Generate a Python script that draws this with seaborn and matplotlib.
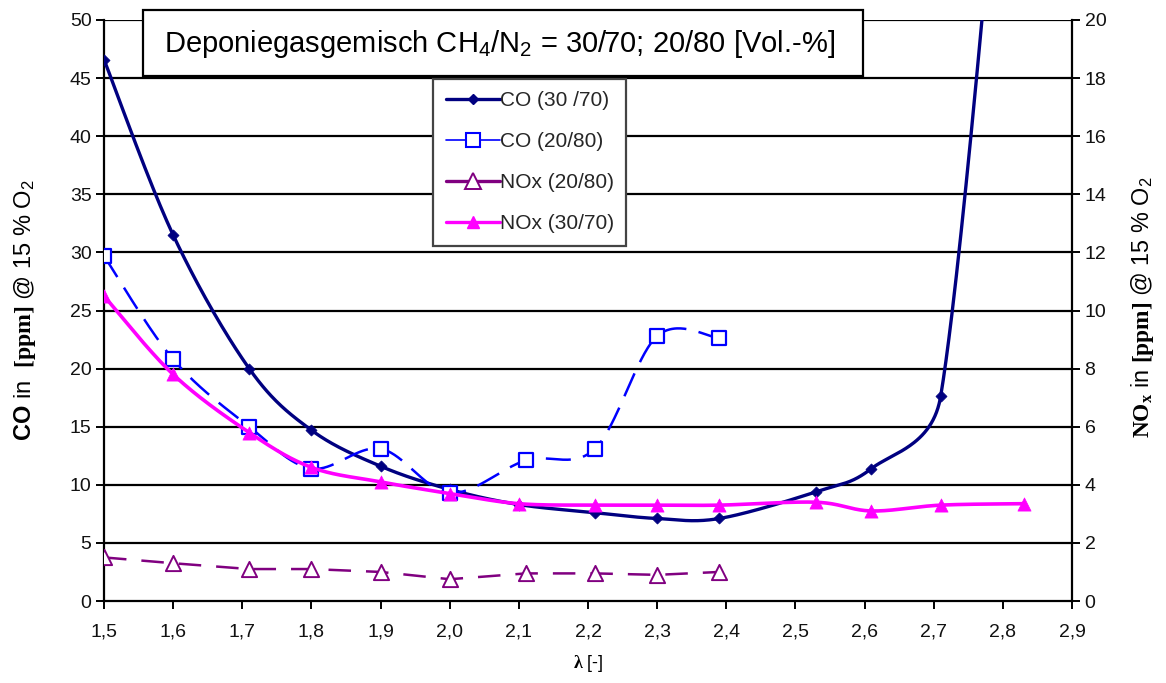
import numpy as np
import pandas as pd
import matplotlib
matplotlib.use("Agg")
import matplotlib.pyplot as plt
import seaborn as sns
from matplotlib.lines import Line2D
from matplotlib.patches import Rectangle

sns.set_theme(style="white")
plt.rcParams['font.family'] = ['Liberation Sans', 'DejaVu Sans']
plt.rcParams['mathtext.fontset'] = 'custom'
plt.rcParams['mathtext.rm'] = 'Liberation Sans'
plt.rcParams['mathtext.it'] = 'Liberation Sans:italic'
plt.rcParams['mathtext.bf'] = 'Liberation Serif:bold'
plt.rcParams['mathtext.sf'] = 'Liberation Sans:bold'

# ---------------- data ----------------
lam_co3070 = [1.50, 1.60, 1.71, 1.80, 1.90, 2.00, 2.10, 2.21, 2.30, 2.39, 2.53, 2.61, 2.71, 2.83]
co_3070 = [46.6, 31.5, 20.0, 14.7, 11.6, 9.6, 8.3, 7.6, 7.1, 7.1, 9.4, 11.4, 17.6, 90.0]

lam_co2080 = [1.50, 1.60, 1.71, 1.80, 1.90, 2.00, 2.11, 2.21, 2.30, 2.39]
co_2080 = [29.7, 20.8, 15.0, 11.4, 13.1, 9.3, 12.1, 13.1, 22.8, 22.6]

lam_nox2080 = [1.50, 1.60, 1.71, 1.80, 1.90, 2.00, 2.11, 2.21, 2.30, 2.39]
nox_2080 = [1.5, 1.3, 1.1, 1.1, 1.0, 0.75, 0.95, 0.95, 0.9, 1.0]

lam_nox3070 = [1.50, 1.60, 1.71, 1.80, 1.90, 2.00, 2.10, 2.21, 2.30, 2.39, 2.53, 2.61, 2.71, 2.83]
nox_3070 = [10.5, 7.8, 5.8, 4.6, 4.1, 3.7, 3.35, 3.3, 3.3, 3.3, 3.4, 3.1, 3.3, 3.35]

x_ticks = [1.5, 1.6, 1.7, 1.8, 1.9, 2.0, 2.1, 2.2, 2.3, 2.4, 2.5, 2.6, 2.7, 2.8, 2.9]
x_ticklabels = ["1,5", "1,6", "1,7", "1,8", "1,9", "2,0", "2,1", "2,2", "2,3", "2,4",
                "2,5", "2,6", "2,7", "2,8", "2,9"]
co_ticks = [0, 5, 10, 15, 20, 25, 30, 35, 40, 45, 50]
nox_ticks = [0, 2, 4, 6, 8, 10, 12, 14, 16, 18, 20]

labels = ["CO (30 /70)", "CO (20/80)", "NOx (20/80)", "NOx (30/70)"]
title_text = "Deponiegasgemisch CH$_4$/N$_2$ = 30/70; 20/80 [Vol.-%]"

C_NAVY = "#000080"
C_BLUE = "#0000FF"
C_PURPLE = "#800080"
C_MAGENTA = "#FF00FF"

W, H = 1166, 683
fig = plt.figure(figsize=(W / 100, H / 100), dpi=100)
L, R, B, T = 104 / W, 1072 / W, 1 - 601 / H, 1 - 20 / H
ax = fig.add_axes([L, B, R - L, T - B])
ax2 = ax.twinx()

xmin, xmax = 1.5, 2.9
axw_px = 1072 - 104
axh_px = 601 - 20


def smooth(xs, ys, ymax, n=60, k=0.5):
    """Excel-like Bezier smoothing computed in pixel space, tangents limited per segment."""
    sx = axw_px / (xmax - xmin)
    sy = axh_px / ymax
    P = np.column_stack([np.asarray(xs) * sx, np.asarray(ys) * sy])
    out = []
    m = len(P)
    for i in range(m - 1):
        p0 = P[i - 1] if i > 0 else P[i]
        p1 = P[i]
        p2 = P[i + 1]
        p3 = P[i + 2] if i + 2 < m else P[i + 1]
        seg_len = np.linalg.norm(p2 - p1)
        d1 = (p2 - p0) / 6.0
        d2 = (p3 - p1) / 6.0
        for d in (d1, d2):
            nd = np.linalg.norm(d)
            if nd > k * seg_len:
                d *= k * seg_len / nd
        c1 = p1 + d1
        c2 = p2 - d2
        t = np.linspace(0, 1, n)[:, None]
        seg = ((1 - t) ** 3) * p1 + 3 * ((1 - t) ** 2) * t * c1 + 3 * (1 - t) * t ** 2 * c2 + t ** 3 * p2
        out.append(seg if i == 0 else seg[1:])
    out = np.vstack(out)
    return out[:, 0] / sx, out[:, 1] / sy


# ---------- grid ----------
for v in co_ticks[1:]:
    ax.axhline(v, color="#000000", lw=1.6, zorder=0.5)

# ---------- CO (30/70) ----------
sx_, sy_ = smooth(lam_co3070, co_3070, 50)
sns.lineplot(x=sx_, y=sy_, ax=ax, sort=False, estimator=None, color=C_NAVY, lw=2.4, zorder=3)
sns.scatterplot(x=lam_co3070, y=co_3070, ax=ax, marker="D", s=32, color=C_NAVY,
                edgecolor=C_NAVY, linewidth=0.5, zorder=4)

# ---------- CO (20/80) ----------
sx_, sy_ = smooth(lam_co2080, co_2080, 50)
sns.lineplot(x=sx_, y=sy_, ax=ax, sort=False, estimator=None, color=C_BLUE, lw=1.8,
             zorder=3).lines[-1].set_dashes([10, 5])
sns.scatterplot(x=lam_co2080, y=co_2080, ax=ax, marker="s", s=110, color="white",
                edgecolor=C_BLUE, linewidth=1.6, zorder=4)

# ---------- NOx (20/80) ----------
sns.lineplot(x=lam_nox2080, y=nox_2080, ax=ax2, sort=False, estimator=None, color=C_PURPLE,
             lw=1.8, zorder=3).lines[-1].set_dashes([9, 6])
sns.scatterplot(x=lam_nox2080, y=nox_2080, ax=ax2, marker="^", s=120, color="white",
                edgecolor=C_PURPLE, linewidth=1.4, zorder=4)

# ---------- NOx (30/70) ----------
sx_, sy_ = smooth(lam_nox3070, nox_3070, 20)
sns.lineplot(x=sx_, y=sy_, ax=ax2, sort=False, estimator=None, color=C_MAGENTA, lw=2.6, zorder=3)
sns.scatterplot(x=lam_nox3070, y=nox_3070, ax=ax2, marker="^", s=90, color=C_MAGENTA,
                edgecolor=C_MAGENTA, linewidth=0.5, zorder=4)

# ---------- axes ----------
ax.set_xlim(xmin, xmax)
ax.set_ylim(0, 50)
ax2.set_ylim(0, 20)
ax.set_xticks(x_ticks)
ax.set_xticklabels(x_ticklabels)
ax.set_yticks(co_ticks)
ax.set_yticklabels([str(v) for v in co_ticks])
ax2.set_yticks(nox_ticks)
ax2.set_yticklabels([str(v) for v in nox_ticks])

for a in (ax, ax2):
    a.grid(False)
    for s in a.spines.values():
        s.set_visible(False)
ax.spines["left"].set_visible(True)
ax.spines["bottom"].set_visible(True)
ax2.spines["right"].set_visible(True)
for s in (ax.spines["left"], ax.spines["bottom"], ax2.spines["right"]):
    s.set_color("black")
    s.set_linewidth(1.6)

ax.tick_params(axis="both", which="major", direction="out", length=6, width=1.4,
               color="black", labelsize=14, labelcolor="#111111", pad=3)
ax.tick_params(axis="x", pad=10)
ax2.tick_params(axis="y", direction="out", length=6, width=1.4, color="black",
                labelsize=14, labelcolor="#111111", pad=3, left=False, right=True)
ax.tick_params(left=True, bottom=True)
ax.set_xlabel("")
ax.set_ylabel("")
ax2.set_ylabel("")

fig.text(25 / W, 1 - 310 / H, r"$\mathsf{CO}$ in  $\mathbf{[ppm]}$ @ 15 % O$_2$",
         rotation=90, ha="center", va="center", fontsize=17, color="black")
fig.text(1142 / W, 1 - 307 / H, r"$\mathbf{NO_x}$ in $\mathbf{[ppm]}$ @ 15 % O$_2$",
         rotation=90, ha="center", va="center", fontsize=16.8, color="black")
fig.text(588 / W, 1 - 663 / H, r"$\mathbf{\lambda}$ [-]", ha="center", va="center",
         fontsize=13, color="black")

# ---------- title box ----------
fig.patches.append(Rectangle((143 / W, 1 - 76 / H), (863 - 143) / W, (76 - 10) / H,
                             transform=fig.transFigure, facecolor="white",
                             edgecolor="black", linewidth=1.6, zorder=5))
fig.text(500 / W, 1 - 44 / H, title_text, ha="center", va="center",
         fontsize=21, color="black", zorder=6)

# ---------- legend ----------
handles = [
    Line2D([], [], color=C_NAVY, lw=2.4, marker="D", markersize=5),
    Line2D([], [], color=C_BLUE, lw=1.2, marker="s", markersize=10,
           markerfacecolor="white", markeredgecolor=C_BLUE, markeredgewidth=1.5),
    Line2D([], [], color=C_PURPLE, lw=2.4, marker="^", markersize=11,
           markerfacecolor="white", markeredgecolor=C_PURPLE, markeredgewidth=1.4),
    Line2D([], [], color=C_MAGENTA, lw=2.4, marker="^", markersize=9,
           markerfacecolor=C_MAGENTA, markeredgecolor=C_MAGENTA),
]
leg = ax2.legend(handles, labels, loc="upper left",
                 bbox_to_anchor=((433 - 104) / axw_px, (601 - 79) / axh_px),
                 fontsize=15, frameon=True, fancybox=False, framealpha=1,
                 edgecolor="#444444", handlelength=2.6, handletextpad=0.0,
                 labelspacing=1.05, borderpad=0.6, borderaxespad=0)
leg.get_frame().set_linewidth(1.6)
leg.set_zorder(10)

fig.savefig("out.png", dpi=100)
